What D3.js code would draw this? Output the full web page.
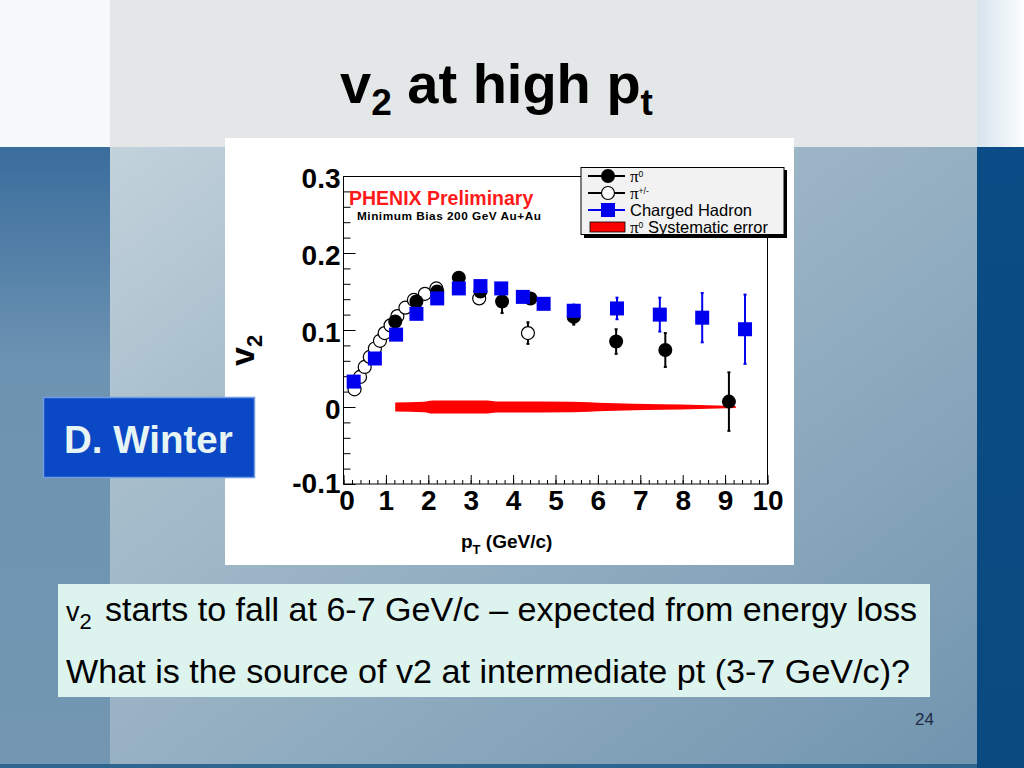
<!DOCTYPE html>
<html>
<head>
<meta charset="utf-8">
<script src="https://cdn.jsdelivr.net/npm/d3@7"></script>
<style>
  body { margin: 0; padding: 0; overflow: hidden; }
  svg { display: block; font-family: "Liberation Sans", Arial, sans-serif; }
</style>
</head>
<body>
<script>
// --- data ---
// pi0 (filled black circles)
var pi0X   = [1.22, 1.72, 2.21, 2.72, 3.23, 3.74, 4.41, 5.43, 6.43, 7.59, 9.09];
var pi0Y   = [0.111, 0.137, 0.150, 0.168, 0.150, 0.137, 0.141, 0.117, 0.085, 0.074, 0.007];
var pi0Err = [0.004, 0.004, 0.004, 0.005, 0.006, 0.015, 0.006, 0.010, 0.016, 0.022, 0.038];

// pi+/- (open circles)
var pipmX   = [0.26, 0.39, 0.50, 0.62, 0.74, 0.86, 0.97, 1.11, 1.27, 1.46, 1.66, 1.92, 2.19, 3.20, 4.35];
var pipmY   = [0.023, 0.039, 0.052, 0.065, 0.076, 0.086, 0.096, 0.106, 0.118, 0.129, 0.139, 0.147, 0.154, 0.141, 0.096];
var pipmErr = [0.001, 0.001, 0.001, 0.001, 0.001, 0.001, 0.001, 0.002, 0.002, 0.002, 0.002, 0.003, 0.003, 0.004, 0.014];

// charged hadrons (blue squares)
var chX   = [0.24, 0.74, 1.24, 1.72, 2.21, 2.72, 3.23, 3.72, 4.23, 4.72, 5.43, 6.45, 7.46, 8.46, 9.47];
var chY   = [0.033, 0.063, 0.094, 0.121, 0.141, 0.154, 0.157, 0.154, 0.143, 0.134, 0.125, 0.128, 0.120, 0.116, 0.101];
var chErr = [0.002, 0.002, 0.002, 0.002, 0.002, 0.003, 0.004, 0.006, 0.005, 0.006, 0.008, 0.014, 0.022, 0.032, 0.045];

// pi0 systematic error band (around zero)
var sysX   = [1.22, 1.9, 2.1, 3.4, 3.6, 5.4, 6.2, 7.5, 8.4, 9.25];
var sysErr = [0.0058, 0.0068, 0.0085, 0.0085, 0.0072, 0.0068, 0.0052, 0.0036, 0.0026, 0.0012];

var xTicks = [0, 1, 2, 3, 4, 5, 6, 7, 8, 9, 10];
var yTicks = [-0.1, 0, 0.1, 0.2, 0.3];
var yTickLabels = ["-0.1", "0", "0.1", "0.2", "0.3"];

var W = 1024, H = 768;
var svg = d3.select("body").append("svg").attr("width", W).attr("height", H);
var defs = svg.append("defs");

function lin(id, x1, y1, x2, y2, stops) {
  var g = defs.append("linearGradient").attr("id", id)
    .attr("x1", x1).attr("y1", y1).attr("x2", x2).attr("y2", y2);
  stops.forEach(function(s) { g.append("stop").attr("offset", s[0]).attr("stop-color", s[1]); });
}
lin("gMid", "0", "0", "1", "1", [[0, "#d6e0e6"], [0.35, "#a9bfcd"], [1, "#6f93ae"]]);
lin("gLeft", "0", "0", "0", "1", [[0, "#3a6d9d"], [0.35, "#6d93b2"], [1, "#7397b2"]]);
lin("gTopR", "0", "0", "1", "0", [[0, "#d6e4ee"], [1, "#fbfdfe"]]);
lin("gRight", "0", "0", "0", "1", [[0, "#0c4c86"], [1, "#0a4a80"]]);

// slide background
svg.append("rect").attr("x", 0).attr("y", 0).attr("width", W).attr("height", H).attr("fill", "url(#gMid)");
svg.append("rect").attr("x", 0).attr("y", 147).attr("width", 110).attr("height", H - 147).attr("fill", "url(#gLeft)");
svg.append("rect").attr("x", 977).attr("y", 147).attr("width", 47).attr("height", H - 147).attr("fill", "url(#gRight)");
svg.append("rect").attr("x", 0).attr("y", 0).attr("width", 110).attr("height", 147).attr("fill", "#f6f9fb");
svg.append("rect").attr("x", 110).attr("y", 0).attr("width", 867).attr("height", 147).attr("fill", "#e4e7e8");
svg.append("rect").attr("x", 977).attr("y", 0).attr("width", 47).attr("height", 147).attr("fill", "url(#gTopR)");
svg.append("rect").attr("x", 0).attr("y", 764).attr("width", 977).attr("height", 4).attr("fill", "#2f6690");

// title
var title = svg.append("text").attr("x", 340).attr("y", 103)
  .attr("font-size", 56).attr("font-weight", "bold").attr("fill", "#000");
title.append("tspan").text("v");
title.append("tspan").attr("font-size", 37).attr("dy", 12).text("2");
title.append("tspan").attr("dy", -12).text(" at high p");
title.append("tspan").attr("font-size", 37).attr("dy", 12).text("t");

// chart image area
svg.append("rect").attr("x", 225).attr("y", 138).attr("width", 569).attr("height", 427).attr("fill", "#fff");

var x = d3.scaleLinear().domain([0, 10]).range([343.5, 767.5]);
var y = d3.scaleLinear().domain([-0.1, 0.3]).range([484, 176]);

var plot = svg.append("g");

// minor ticks
plot.append("g").attr("transform", "translate(0,484)")
  .call(d3.axisBottom(x).tickValues(d3.range(0, 10.001, 0.2)).tickSize(-4).tickFormat(""))
  .call(function(g) { g.select(".domain").remove(); });
plot.append("g").attr("transform", "translate(343.5,0)")
  .call(d3.axisLeft(y).tickValues(d3.range(-0.1, 0.3001, 0.02)).tickSize(-7).tickFormat(""))
  .call(function(g) { g.select(".domain").remove(); });

// major ticks + labels
var xAx = plot.append("g").attr("transform", "translate(0,484)")
  .call(d3.axisBottom(x).tickValues(xTicks).tickSize(-9).tickPadding(6).tickFormat(d3.format("d")));
xAx.select(".domain").remove();
xAx.selectAll("text").attr("font-size", 28).attr("font-weight", "bold").attr("fill", "#000")
  .attr("font-family", "'Liberation Sans', Arial, sans-serif");
xAx.selectAll(".tick text").filter(function(d) { return d === 0; }).attr("dx", 3);

var yAx = plot.append("g").attr("transform", "translate(343.5,0)")
  .call(d3.axisLeft(y).tickValues(yTicks).tickSize(-12).tickPadding(3)
    .tickFormat(function(d, i) { return yTickLabels[i]; }));
yAx.select(".domain").remove();
yAx.selectAll("text").attr("font-size", 28).attr("font-weight", "bold").attr("fill", "#000")
  .attr("dy", "0.42em").attr("font-family", "'Liberation Sans', Arial, sans-serif");
yAx.selectAll(".tick text").filter(function(d) { return d === -0.1; }).attr("dy", "0.3em");
plot.selectAll(".tick line").attr("stroke", "#000");

// frame
plot.append("rect").attr("x", 343.5).attr("y", 176.5).attr("width", 424).attr("height", 307.5)
  .attr("fill", "none").attr("stroke", "#000").attr("stroke-width", 1);

// axis titles
var yt = plot.append("text").attr("transform", "translate(254,366) rotate(-90)")
  .attr("font-size", 34).attr("font-weight", "bold");
yt.append("tspan").text("v");
yt.append("tspan").attr("font-size", 22).attr("dy", 8).text("2");

var xt = plot.append("text").attr("x", 461).attr("y", 548).attr("font-size", 19).attr("font-weight", "bold");
xt.append("tspan").text("p");
xt.append("tspan").attr("font-size", 13).attr("dy", 6).text("T");
xt.append("tspan").attr("dy", -6).text(" (GeV/c)");

// systematic band
var band = sysX.map(function(v, i) { return { x: v, e: sysErr[i] }; });
plot.append("path").datum(band)
  .attr("fill", "#ff0000")
  .attr("d", d3.area().curve(d3.curveMonotoneX).x(function(d) { return x(d.x); })
    .y0(function(d) { return y(-d.e); }).y1(function(d) { return y(d.e); }));

function errBars(xs, ys, es, color) {
  var g = plot.append("g").attr("stroke", color).attr("stroke-width", 2);
  xs.forEach(function(v, i) {
    g.append("line").attr("x1", x(v)).attr("x2", x(v))
      .attr("y1", y(ys[i] - es[i])).attr("y2", y(ys[i] + es[i]));
    [ys[i] - es[i], ys[i] + es[i]].forEach(function(e) {
      g.append("line").attr("x1", x(v) - 1.5).attr("x2", x(v) + 1.5)
        .attr("y1", y(e)).attr("y2", y(e));
    });
  });
}

// pi+/- open circles
errBars(pipmX, pipmY, pipmErr, "#000");
plot.append("g").selectAll("circle").data(pipmX).join("circle")
  .attr("cx", function(d) { return x(d); })
  .attr("cy", function(d, i) { return y(pipmY[i]); })
  .attr("r", 6.5).attr("fill", "#fff").attr("stroke", "#000").attr("stroke-width", 1.2);

// pi0 filled circles
errBars(pi0X, pi0Y, pi0Err, "#000");
plot.append("g").selectAll("circle").data(pi0X).join("circle")
  .attr("cx", function(d) { return x(d); })
  .attr("cy", function(d, i) { return y(pi0Y[i]); })
  .attr("r", 7).attr("fill", "#000");

// charged hadron squares
errBars(chX, chY, chErr, "#0000ee");
plot.append("g").selectAll("rect").data(chX).join("rect")
  .attr("x", function(d) { return x(d) - 7; })
  .attr("y", function(d, i) { return y(chY[i]) - 7; })
  .attr("width", 14).attr("height", 14).attr("fill", "#0000ee");

// labels in plot
plot.append("text").attr("x", 349).attr("y", 205).attr("font-size", 19.5).attr("font-weight", "bold")
  .attr("fill", "#ff1a1a").text("PHENIX Preliminary");
plot.append("text").attr("x", 357).attr("y", 220).attr("font-size", 11.8).attr("font-weight", "bold")
  .attr("fill", "#000").attr("textLength", 184).text("Minimum Bias 200 GeV Au+Au");

// legend
var lg = svg.append("g");
defs.append("clipPath").attr("id", "legClip").append("rect")
  .attr("x", 581).attr("y", 167).attr("width", 203).attr("height", 68);
lg.append("rect").attr("x", 584).attr("y", 170).attr("width", 203).attr("height", 68).attr("fill", "#000");
lg.append("rect").attr("x", 581).attr("y", 167.5).attr("width", 203).attr("height", 67)
  .attr("fill", "#f2f2f2").attr("stroke", "#000").attr("stroke-width", 1);
var lgc = lg.append("g").attr("clip-path", "url(#legClip)");
var legRows = [176, 193, 210, 227];
var legNames = ["\u03c0", "\u03c0", "Charged Hadron", "\u03c0"];
var legSup = ["0", "+/-", "", "0"];
legRows.slice(0, 3).forEach(function(ry, i) {
  lgc.append("line").attr("x1", 588).attr("x2", 625).attr("y1", ry).attr("y2", ry)
    .attr("stroke", i === 2 ? "#0000ee" : "#000").attr("stroke-width", 2);
});
lgc.append("circle").attr("cx", 608).attr("cy", legRows[0]).attr("r", 7).attr("fill", "#000");
lgc.append("circle").attr("cx", 608).attr("cy", legRows[1]).attr("r", 6.5).attr("fill", "#fff")
  .attr("stroke", "#000").attr("stroke-width", 1.2);
lgc.append("rect").attr("x", 601).attr("y", legRows[2] - 7).attr("width", 14).attr("height", 14).attr("fill", "#0000ee");
lgc.append("rect").attr("x", 590).attr("y", 222).attr("width", 35).attr("height", 10)
  .attr("fill", "#ff0000").attr("stroke", "#000").attr("stroke-width", 0.8);
legRows.forEach(function(ry, i) {
  var t = lgc.append("text").attr("x", 630).attr("y", ry + 6).attr("fill", "#000");
  if (i === 2) {
    t.attr("font-size", 16.5).text(legNames[i]);
  } else {
    t.attr("font-size", 15);
    t.append("tspan").attr("font-family", "'Liberation Serif', serif").attr("font-size", 17).text(legNames[i]);
    t.append("tspan").attr("font-size", 8.5).attr("dy", -5).text(legSup[i]);
    if (i === 3) t.append("tspan").attr("font-size", 16.5).attr("dy", 5).text(" Systematic error");
  }
});

// D. Winter box
svg.append("rect").attr("x", 43.5).attr("y", 397.5).attr("width", 211).attr("height", 80)
  .attr("fill", "#0b48c6").attr("stroke", "#6f9de2").attr("stroke-width", 1.5);
svg.append("text").attr("x", 64).attr("y", 453).attr("font-size", 38.5).attr("font-weight", "bold")
  .attr("fill", "#e6f4f4").text("D. Winter");

// comment box
svg.append("rect").attr("x", 58).attr("y", 584).attr("width", 872).attr("height", 113).attr("fill", "#dcf3ee");
var l1 = svg.append("text").attr("x", 66).attr("y", 621).attr("font-size", 33).attr("fill", "#000");
l1.append("tspan").attr("font-size", 27).text("v");
l1.append("tspan").attr("font-size", 22).attr("dy", 8).text("2");
l1.append("tspan").attr("dy", -8).attr("x", 105).attr("textLength", 812)
  .attr("lengthAdjust", "spacingAndGlyphs")
  .text("starts to fall at 6-7 GeV/c \u2013 expected from energy loss");
svg.append("text").attr("x", 66).attr("y", 683).attr("font-size", 33).attr("fill", "#000")
  .attr("textLength", 844).attr("lengthAdjust", "spacingAndGlyphs")
  .text("What is the source of v2 at intermediate pt (3-7 GeV/c)?");

// slide number
svg.append("text").attr("x", 915).attr("y", 725).attr("font-size", 17).attr("fill", "#1b2b44").text("24");
</script>
</body>
</html>
